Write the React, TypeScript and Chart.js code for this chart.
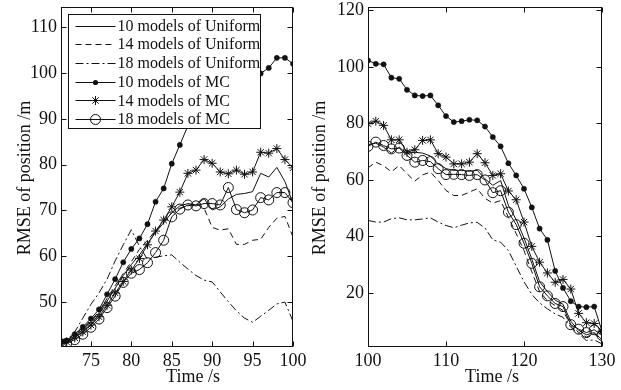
import React, { useEffect, useRef } from 'react';
import { Chart, registerables } from 'chart.js';
Chart.register(...registerables);

// ---------- data ----------
const leftTimes = [71.3, 72, 73, 74, 75, 76, 77, 78, 79, 80, 81, 82, 83, 84, 85, 86, 87, 88, 89, 90, 91, 92, 93, 94, 95, 96, 97, 98, 99, 100];
const rightTimes = [100, 101, 102, 103, 104, 105, 106, 107, 108, 109, 110, 111, 112, 113, 114, 115, 116, 117, 118, 119, 120, 121, 122, 123, 124, 125, 126, 127, 128, 129, 130];

const seriesLabels = ['10 models of Uniform', '14 models of Uniform', '18 models of Uniform', '10 models of MC', '14 models of MC', '18 models of MC'];

const uniform10Left = [41.0, 41.2, 42.3, 43.6, 45.2, 47.3, 50.2, 53.0, 55.8, 58.2, 60.3, 62.8, 65.2, 67.3, 69.5, 71.0, 71.5, 71.2, 72.6, 70.1, 70.8, 72.5, 73.5, 73.7, 74.1, 78.1, 77.3, 79.4, 76.3, 71.5];
const uniform14Left = [41.2, 41.5, 42.6, 44.0, 45.8, 48.0, 50.8, 53.6, 56.2, 58.8, 61.5, 63.5, 65.6, 67.5, 69.5, 70.5, 71.0, 71.5, 70.5, 66.3, 65.7, 66.0, 62.6, 62.6, 63.5, 63.7, 66.3, 68.3, 68.7, 64.2];
const uniform18Left = [41.0, 41.7, 43.5, 46.5, 49.5, 52.0, 55.0, 59.0, 62.5, 65.8, 62.2, 59.3, 59.8, 60.1, 60.3, 58.7, 57.2, 55.8, 54.8, 54.4, 52.2, 50.1, 48.1, 46.5, 45.6, 46.9, 48.2, 49.6, 50.0, 45.8];
const mc10Left = [41.5, 41.6, 43.0, 44.6, 46.4, 48.4, 51.7, 55.0, 58.7, 61.6, 63.9, 67.0, 71.9, 74.8, 80.2, 84.3, 88.5, 92.0, 94.5, 96.0, 97.0, 97.5, 98.5, 99.0, 99.3, 99.9, 101.1, 103.3, 103.3, 102.0];
const mc14Left = [41.0, 41.3, 42.2, 43.5, 45.0, 46.8, 49.3, 52.0, 54.5, 57.0, 59.5, 62.5, 65.5, 67.9, 70.8, 74.0, 78.1, 78.8, 81.1, 80.3, 78.4, 78.0, 78.8, 77.9, 78.4, 82.7, 82.5, 83.5, 81.1, 79.3];
const mc18Left = [40.8, 41.0, 41.8, 43.0, 44.5, 46.3, 48.8, 51.3, 54.3, 56.3, 57.1, 58.6, 60.8, 63.5, 68.6, 70.3, 71.2, 71.0, 71.5, 71.5, 71.2, 75.0, 70.2, 69.5, 70.1, 72.8, 72.3, 73.9, 73.9, 71.7];

const uniform10Right = [72.5, 73.0, 71.6, 69.5, 71.6, 69.3, 69.8, 69.5, 68.5, 65.7, 64.0, 63.4, 63.4, 63.1, 63.4, 60.4, 58.1, 59.8, 51.0, 46.0, 39.5, 32.0, 24.0, 20.5, 17.5, 16.0, 10.0, 6.8, 5.2, 6.0, 3.5];
const uniform14Right = [64.3, 66.3, 65.0, 62.9, 65.1, 62.2, 59.6, 61.8, 62.8, 59.8, 56.3, 54.5, 54.5, 55.7, 56.9, 53.5, 51.8, 52.7, 46.8, 41.0, 35.0, 27.5, 20.5, 17.3, 15.6, 13.8, 8.5, 6.1, 4.4, 5.6, 3.2];
const uniform18Right = [45.7, 45.1, 45.1, 46.3, 46.6, 45.9, 45.9, 46.2, 46.6, 45.1, 43.9, 43.1, 44.0, 44.8, 45.0, 43.0, 38.8, 38.0, 35.0, 29.5, 24.0, 19.5, 16.5, 14.4, 12.6, 11.4, 7.9, 5.6, 3.2, 3.4, 2.0];
const mc10Right = [102.3, 101.1, 100.9, 96.2, 95.8, 91.9, 89.9, 89.7, 89.9, 86.4, 82.6, 80.5, 80.8, 81.3, 81.1, 78.9, 75.2, 71.9, 65.9, 61.6, 56.9, 50.3, 42.8, 38.8, 27.8, 21.8, 17.1, 15.2, 15.0, 15.2, 6.5];
const mc14Right = [79.9, 80.8, 79.3, 74.2, 74.2, 69.8, 70.7, 74.0, 74.2, 69.3, 68.1, 65.7, 65.7, 66.3, 69.3, 66.1, 61.6, 62.2, 56.1, 53.0, 45.1, 36.5, 30.9, 27.1, 23.8, 24.8, 21.4, 12.8, 9.5, 9.2, 6.5];
const mc18Right = [71.9, 73.4, 72.2, 71.0, 71.3, 68.7, 66.3, 66.9, 66.5, 64.0, 61.9, 62.0, 61.9, 61.6, 61.9, 60.0, 55.5, 56.2, 48.6, 44.2, 37.6, 30.5, 22.2, 19.0, 16.3, 15.2, 8.8, 7.2, 6.0, 7.0, 5.0];

const leftXTicks = [75, 80, 85, 90, 95, 100];
const leftYTicks = [50, 60, 70, 80, 90, 100, 110];
const rightXTicks = [100, 110, 120, 130];
const rightYTicks = [20, 40, 60, 80, 100, 120];

const xTitle = 'Time /s';
const yTitle = 'RMSE of position /m';

// ---------- styling ----------
const FONT = "'Liberation Serif', 'Times New Roman', serif";
const INK = '#111';

type Marker = 'none' | 'dot' | 'star' | 'ring';
const seriesStyles: { dash: number[]; marker: Marker }[] = [
  { dash: [], marker: 'none' },
  { dash: [6, 4], marker: 'none' },
  { dash: [8, 3, 2, 3], marker: 'none' },
  { dash: [], marker: 'dot' },
  { dash: [], marker: 'star' },
  { dash: [], marker: 'ring' },
];

function makeDatasets(times: number[], seriesList: number[][]) {
  return seriesList.map((vals, i) => {
    const st = seriesStyles[i];
    const ds: any = {
      label: seriesLabels[i],
      data: times.map((t, k) => ({ x: t, y: vals[k] })),
      borderColor: INK,
      borderWidth: 1,
      borderDash: st.dash,
      tension: 0,
      fill: false,
      pointRadius: 0,
      pointHoverRadius: 0,
    };
    if (st.marker === 'dot') {
      ds.pointStyle = 'circle';
      ds.pointRadius = 2.6;
      ds.pointBackgroundColor = INK;
      ds.pointBorderColor = INK;
      ds.pointBorderWidth = 0.5;
    } else if (st.marker === 'star') {
      ds.pointStyle = 'star';
      ds.pointRadius = 4.5;
      ds.pointBorderColor = INK;
      ds.pointBorderWidth = 1;
    } else if (st.marker === 'ring') {
      ds.pointStyle = 'circle';
      ds.pointRadius = 5;
      ds.pointBackgroundColor = 'rgba(0,0,0,0)';
      ds.pointBorderColor = INK;
      ds.pointBorderWidth = 1;
    }
    return ds;
  });
}

function drawMarker(ctx: CanvasRenderingContext2D, m: Marker, x: number, y: number) {
  ctx.save();
  ctx.setLineDash([]);
  ctx.strokeStyle = INK;
  ctx.fillStyle = INK;
  ctx.lineWidth = 1;
  if (m === 'dot') {
    ctx.beginPath();
    ctx.arc(x, y, 2.6, 0, Math.PI * 2);
    ctx.fill();
  } else if (m === 'ring') {
    ctx.beginPath();
    ctx.arc(x, y, 5, 0, Math.PI * 2);
    ctx.stroke();
  } else if (m === 'star') {
    const r = 4.5;
    const d = r * Math.SQRT1_2;
    ctx.beginPath();
    ctx.moveTo(x - r, y); ctx.lineTo(x + r, y);
    ctx.moveTo(x, y - r); ctx.lineTo(x, y + r);
    ctx.moveTo(x - d, y - d); ctx.lineTo(x + d, y + d);
    ctx.moveTo(x - d, y + d); ctx.lineTo(x + d, y - d);
    ctx.stroke();
  }
  ctx.restore();
}

const framePlugin = {
  id: 'frame',
  afterDatasetsDraw(chart: any, _args: any, opts: any) {
    const { ctx, chartArea: a, scales } = chart;
    ctx.save();
    ctx.setLineDash([]);
    ctx.strokeStyle = INK;
    ctx.lineWidth = 1;
    const L = Math.round(a.left) + 0.5;
    const R = Math.round(a.right) - 0.5;
    const T = Math.round(a.top) + 0.5;
    const B = Math.round(a.bottom) - 0.5;
    ctx.strokeRect(L, T, R - L, B - T);
    const tl = 5;
    ctx.beginPath();
    for (const t of scales.x.ticks) {
      const px = Math.round(scales.x.getPixelForValue(t.value)) + 0.5;
      ctx.moveTo(px, B); ctx.lineTo(px, B - tl);
      ctx.moveTo(px, T); ctx.lineTo(px, T + tl);
    }
    for (const t of scales.y.ticks) {
      const py = Math.round(scales.y.getPixelForValue(t.value)) + 0.5;
      ctx.moveTo(L, py); ctx.lineTo(L + tl, py);
      ctx.moveTo(R, py); ctx.lineTo(R - tl, py);
    }
    ctx.stroke();

    // axis titles
    ctx.fillStyle = INK;
    ctx.font = `18px ${FONT}`;
    ctx.textAlign = 'center';
    ctx.textBaseline = 'alphabetic';
    ctx.fillText(opts.xTitle, a.left + opts.xTitleFrac * (a.right - a.left), opts.xTitleY);
    ctx.save();
    ctx.translate(opts.yTitleX, (a.top + a.bottom) / 2 + 1);
    ctx.rotate(-Math.PI / 2);
    ctx.textBaseline = 'middle';
    ctx.fillText(opts.yTitle, 0, 0);
    ctx.restore();

    // legend
    if (opts.legend) {
      const bx = Math.round(a.left) + 7.5;
      const by = Math.round(a.top) + 7.5;
      const bw = 192;
      const bh = 114;
      ctx.fillStyle = '#fff';
      ctx.fillRect(bx, by, bw, bh);
      ctx.strokeStyle = INK;
      ctx.strokeRect(bx, by, bw, bh);
      ctx.font = `16px ${FONT}`;
      ctx.textAlign = 'left';
      ctx.textBaseline = 'middle';
      chart.data.datasets.forEach((ds: any, i: number) => {
        const y = by + 11 + i * 18.7;
        const x0 = bx + 7;
        const x1 = bx + 47;
        ctx.beginPath();
        ctx.setLineDash(seriesStyles[i].dash);
        ctx.moveTo(x0, Math.round(y) + 0.5);
        ctx.lineTo(x1, Math.round(y) + 0.5);
        ctx.stroke();
        ctx.setLineDash([]);
        drawMarker(ctx, seriesStyles[i].marker, (x0 + x1) / 2, Math.round(y) + 0.5);
        ctx.fillStyle = INK;
        ctx.fillText(ds.label, x1 + 2, y + 1);
      });
    }
    ctx.restore();
  },
};

function makeConfig(p: {
  times: number[]; series: number[][]; xMin: number; xMax: number; yMin: number; yMax: number;
  xTicks: number[]; yTicks: number[]; leftW: number; padRight: number; legend: boolean;
  xTitleFrac: number; yTitleX: number;
}): any {
  const tickFont = { family: FONT, size: 18 };
  return {
    type: 'line',
    data: { datasets: makeDatasets(p.times, p.series) },
    plugins: [framePlugin],
    options: {
      responsive: false,
      animation: false,
      events: [],
      layout: { padding: { left: 0, top: 7, right: p.padRight, bottom: 0 } },
      plugins: {
        legend: { display: false },
        tooltip: { enabled: false },
        frame: { xTitle, yTitle, xTitleFrac: p.xTitleFrac, xTitleY: 382, yTitleX: p.yTitleX, legend: p.legend },
      },
      scales: {
        x: {
          type: 'linear',
          min: p.xMin,
          max: p.xMax,
          grid: { display: false, drawTicks: false },
          border: { display: false },
          ticks: { font: tickFont, color: INK, padding: 3, maxRotation: 0, autoSkip: false },
          afterBuildTicks: (s: any) => { s.ticks = p.xTicks.map((v) => ({ value: v })); },
          afterFit: (s: any) => {
            s.height = 43;
            s.paddingLeft = 0; s.paddingRight = 0; s.paddingTop = 0; s.paddingBottom = 0;
          },
        },
        y: {
          type: 'linear',
          min: p.yMin,
          max: p.yMax,
          grid: { display: false, drawTicks: false },
          border: { display: false },
          ticks: { font: tickFont, color: INK, padding: 4, autoSkip: false },
          afterBuildTicks: (s: any) => { s.ticks = p.yTicks.map((v) => ({ value: v })); },
          afterFit: (s: any) => {
            s.width = p.leftW;
            s.paddingLeft = 0; s.paddingRight = 0; s.paddingTop = 0; s.paddingBottom = 0;
          },
        },
      },
    },
  };
}

export default function App() {
  const leftRef = useRef<HTMLCanvasElement | null>(null);
  const rightRef = useRef<HTMLCanvasElement | null>(null);

  useEffect(() => {
    const left = new Chart(leftRef.current as HTMLCanvasElement, makeConfig({
      times: leftTimes,
      series: [uniform10Left, uniform14Left, uniform18Left, mc10Left, mc14Left, mc18Left],
      xMin: 71.3, xMax: 100, yMin: 40.2, yMax: 114.4,
      xTicks: leftXTicks, yTicks: leftYTicks,
      leftW: 61, padRight: 17, legend: true,
      xTitleFrac: 0.569, yTitleX: 25,
    }));
    const right = new Chart(rightRef.current as HTMLCanvasElement, makeConfig({
      times: rightTimes,
      series: [uniform10Right, uniform14Right, uniform18Right, mc10Right, mc14Right, mc18Right],
      xMin: 100, xMax: 130, yMin: 0.9, yMax: 121.2,
      xTicks: rightXTicks, yTicks: rightYTicks,
      leftW: 58, padRight: 19, legend: false,
      xTitleFrac: 0.53, yTitleX: 10,
    }));
    return () => { left.destroy(); right.destroy(); };
  }, []);

  return (
    <div style={{ position: 'absolute', left: 0, top: 0, width: 621, height: 390, background: '#fff' }}>
      <canvas ref={leftRef} width={310} height={390} style={{ position: 'absolute', left: 0, top: 0 }} />
      <canvas ref={rightRef} width={311} height={390} style={{ position: 'absolute', left: 310, top: 0 }} />
    </div>
  );
}
